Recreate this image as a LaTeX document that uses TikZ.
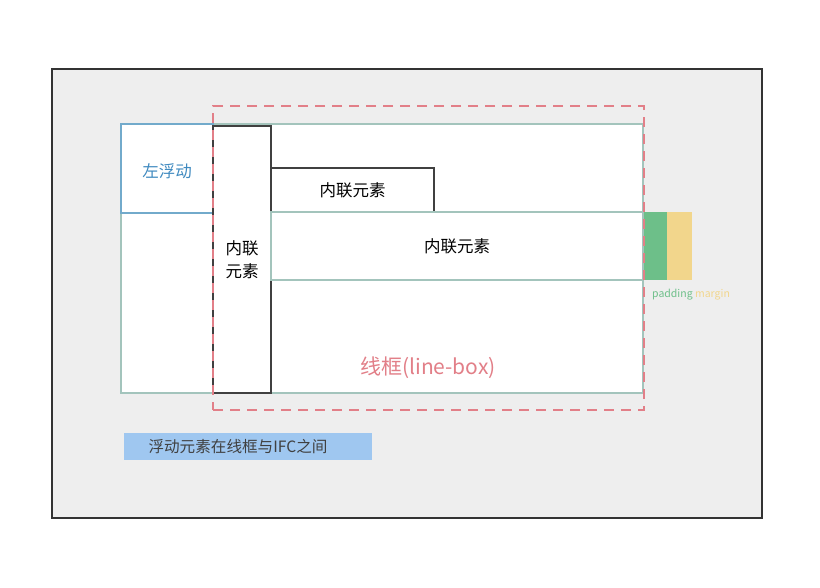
\documentclass[tikz,border=0pt]{standalone}
\usepackage{fontspec}
\newfontfamily\cjk{Noto Sans CJK SC}
\usepackage{xcolor}
\usetikzlibrary{positioning}
\definecolor{pagegray}{HTML}{EEEEEE}
\definecolor{boxteal}{HTML}{A3C4BC}
\definecolor{lbred}{HTML}{E27F88}
\definecolor{floatblue}{HTML}{72AACB}
\definecolor{floattext}{HTML}{3F8AC0}
\definecolor{padgreen}{HTML}{6DBF89}
\definecolor{maryellow}{HTML}{F2D68C}
\definecolor{notefill}{HTML}{9FC7F0}
\tikzset{blk/.style={rectangle,draw,inner sep=0pt,line width=1.4pt},
         inl/.style={blk,draw=black!75,fill=white,font=\cjk\fontsize{16.5}{19}\selectfont},
         txt/.style={inner sep=0pt,font=\cjk\fontsize{16.5}{19}\selectfont}}

\begin{document}
\begin{tikzpicture}[x=1pt,y=-1pt]
    \useasboundingbox (0,0) rectangle (820,587);
    \fill[white] (0,0) rectangle (820,587);
    \node[blk,draw=black!80,line width=1.1pt,fill=pagegray,minimum width=710pt,minimum height=449pt] (page) at (407,293.5) {};
    \node[blk,draw=boxteal,fill=white,minimum width=522pt,minimum height=269pt] (ifc) at (382,258.5) {};
    \node[blk,draw=floatblue,fill=white,minimum width=92pt,minimum height=89pt] (flt) at (167,168.5) {};
    \node[txt,text=floattext] (flttxt) at (167,171) {左浮动};
    \node[inl,minimum width=58pt,minimum height=267pt,align=center] (tall) at (242,259.5) {内联\\[4pt]元素};
    \node[inl,minimum width=163pt,minimum height=44pt] (small) at (352.5,190) {内联元素};
    \node[inl,draw=boxteal,minimum width=372pt,minimum height=68pt] (wide) at (457,246) {内联元素};
    \node[rectangle,fill=padgreen,minimum width=23pt,minimum height=68pt,inner sep=0pt] (pad) at (655.5,246) {};
    \node[rectangle,fill=maryellow,minimum width=25pt,minimum height=68pt,inner sep=0pt] (mar) at (679.5,246) {};
    \node[blk,draw=lbred,line width=2.4pt,dash pattern=on 10pt off 7pt,minimum width=431pt,minimum height=304pt] (lbox) at (428.5,258) {};

    \node[txt,text=lbred,font=\cjk\fontsize{21}{24}\selectfont] (lbtxt) at (428,368) {线框(line-box)};
    \node[txt,text=padgreen,font=\cjk\fontsize{10.5}{12}\selectfont,anchor=west] (padtxt) at (652,295) {padding};
    \node[txt,text=maryellow,font=\cjk\fontsize{10.5}{12}\selectfont,right=2pt of padtxt] (martxt) {margin};
    \node[rectangle,fill=notefill,minimum width=248pt,minimum height=27pt,inner sep=0pt] (note) at (248,446.5) {};
    \node[txt,font=\cjk\fontsize{15.6}{18}\selectfont,text=black!75] (notetxt) at (238,447) {浮动元素在线框与IFC之间};
\end{tikzpicture}
\end{document}
